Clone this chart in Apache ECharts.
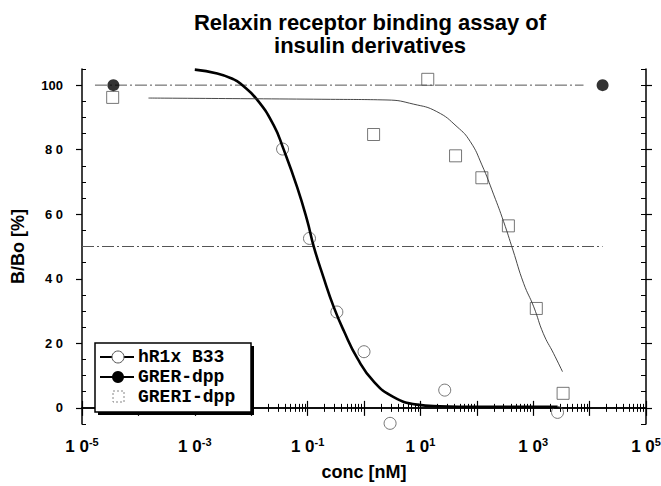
<!DOCTYPE html>
<html>
<head>
<meta charset="utf-8">
<script src="https://cdn.jsdelivr.net/npm/echarts@6/dist/echarts.min.js"></script>
<style>
  html, body { margin: 0; padding: 0; background: #fff; }
  #chart-container { width: 661px; height: 486px; }
</style>
</head>
<body>
<div id="chart-container"></div>
<script>
// measured points, conc in nM, binding in %
var b33Conc = [0.036, 0.108, 0.33, 1.0, 2.9, 27, 2700];
var b33Val = [80.2, 52.5, 29.7, 17.4, -4.8, 5.5, -1.4];

var grerConc = [3.6e-5, 1.7e4];
var grerVal = [100, 100];

var greriConc = [3.5e-5, 1.48, 13.5, 42, 123, 363, 1135, 3390];
var greriVal = [96.2, 84.7, 101.8, 78.1, 71.3, 56.4, 30.8, 4.5];

// fitted curves
var b33FitConc = [0.001, 0.0025, 0.0049, 0.0065, 0.0126, 0.025, 0.037, 0.065, 0.098, 0.129, 0.19, 0.29, 0.44, 0.76, 1.48, 3.3, 8.7, 22, 100, 2700];
var b33FitVal = [104.8, 103.6, 101.8, 100.4, 95.6, 87.6, 80.4, 68.5, 58.2, 49.9, 40.6, 31.3, 23.8, 15.4, 8.2, 3.4, 1.0, 0.5, 0.3, 0.3];

var greriFitConc = [0.000151, 0.254, 2.56, 7.6, 19.5, 44.7, 76.7, 123, 200, 299, 437, 676, 1023, 1514, 2291, 3311];
var greriFitVal = [96.0, 95.6, 95.4, 94.1, 91.8, 87.1, 82.5, 75.3, 66.0, 57.7, 48.9, 38.6, 31.3, 23.0, 16.9, 11.2];

// dash-dot reference lines
var ref100Conc = [1.7e-5, 7.8e3];
var ref100Val = [100, 100];
var ref50Conc = [1e-5, 1.7e4];
var ref50Val = [50, 50];

// ticks
var xDecades = [1e-5, 1e-4, 1e-3, 1e-2, 1e-1, 1, 10, 100, 1e3, 1e4, 1e5];
var xLabelTicks = [1e-5, 1e-3, 1e-1, 10, 1e3, 1e5];
var yMajor = [0, 20, 40, 60, 80, 100];
var yMinor = [-5, 5, 10, 15, 25, 30, 35, 45, 50, 55, 65, 70, 75, 85, 90, 95, 105];

var xMinor = [];
for (var d = 0; d < xDecades.length - 1; d++) {
    for (var k = 1; k <= 9; k++) xMinor.push(xDecades[d] * k);
}
xMinor.push(1e5);

function pairs(xs, ys) {
    return xs.map(function (x, i) { return [x, ys[i]]; });
}

var chart = echarts.init(document.getElementById('chart-container'), null, { renderer: 'svg' });

var bold = 'Liberation Sans';
var axisLine = { show: true, lineStyle: { color: '#000', width: 1.5 } };
var dashDot = [12, 3, 2, 3];

function logAxis(pos, extra) {
    return Object.assign({
        type: 'log', logBase: 10, min: 1e-5, max: 1e5, position: pos,
        axisLine: axisLine, splitLine: { show: false }, axisLabel: { show: false }
    }, extra);
}
function valAxis(pos, extra) {
    return Object.assign({
        type: 'value', min: -5, max: 105, position: pos,
        axisLine: axisLine, splitLine: { show: false }, axisLabel: { show: false }
    }, extra);
}

var legendFont = 'bold 18px "Liberation Mono"';

var option = {
    backgroundColor: '#fff',
    animation: false,
    grid: { left: 82, right: 15, top: 69, bottom: 62, outerBoundsMode: 'none', containLabel: false },
    xAxis: [
        logAxis('bottom', {
            axisTick: { customValues: xDecades, length: 8, lineStyle: { color: '#000', width: 1.2 } },
            axisLabel: {
                show: true, customValues: xLabelTicks, margin: 12,
                formatter: function (v) {
                    var e = Math.round(Math.log10(v));
                    return '{a|1 0}{b|' + e + '}';
                },
                rich: {
                    a: { fontFamily: bold, fontWeight: 'bold', fontSize: 17, color: '#000', lineHeight: 20 },
                    b: { fontFamily: bold, fontWeight: 'bold', fontSize: 11, color: '#000', lineHeight: 12, verticalAlign: 'top' }
                }
            },
            name: 'conc [nM]', nameLocation: 'middle', nameGap: 39,
            nameTextStyle: { fontFamily: bold, fontWeight: 'bold', fontSize: 18, color: '#000' }
        }),
        logAxis('bottom', {
            axisLine: { show: false },
            axisTick: { customValues: xMinor, inside: true, length: 4, lineStyle: { color: '#000', width: 1 } }
        }),
        logAxis('top', {
            axisTick: { customValues: xDecades, length: 7, lineStyle: { color: '#000', width: 1.2 } }
        }),
        logAxis('top', {
            axisLine: { show: false },
            axisTick: { customValues: xMinor, inside: true, length: 4, lineStyle: { color: '#000', width: 1 } }
        })
    ],
    yAxis: [
        valAxis('left', {
            axisTick: { customValues: yMajor, length: 6, lineStyle: { color: '#000', width: 1.2 } },
            axisLabel: {
                show: true, customValues: yMajor, margin: 19,
                fontFamily: bold, fontWeight: 'bold', fontSize: 13, color: '#000',
                formatter: function (v) { return v < 100 ? String(v).split('').join(' ') : String(v); }
            },
            name: 'B/Bo [%]', nameLocation: 'middle', nameGap: 55, nameRotate: 90,
            nameTextStyle: { fontFamily: bold, fontWeight: 'bold', fontSize: 18, color: '#000' }
        }),
        valAxis('left', {
            axisLine: { show: false },
            axisTick: { customValues: yMinor, inside: true, length: 4, lineStyle: { color: '#000', width: 1 } }
        }),
        valAxis('right', {
            axisTick: { customValues: yMajor, length: 6, lineStyle: { color: '#000', width: 1.2 } }
        }),
        valAxis('right', {
            axisLine: { show: false },
            axisTick: { customValues: yMajor.concat(yMinor), inside: true, length: 5, lineStyle: { color: '#000', width: 1 } }
        })
    ],
    series: [
        {
            name: 'ref100', type: 'line', data: pairs(ref100Conc, ref100Val), symbol: 'none',
            lineStyle: { color: '#555', width: 1, type: dashDot }
        },
        {
            name: 'ref50', type: 'line', data: pairs(ref50Conc, ref50Val), symbol: 'none',
            lineStyle: { color: '#555', width: 1, type: dashDot }
        },
        {
            name: 'hR1x B33 fit', type: 'line', data: pairs(b33FitConc, b33FitVal), symbol: 'none', smooth: 0.5,
            lineStyle: { color: '#000', width: 2.6 }
        },
        {
            name: 'GRERI-dpp fit', type: 'line', data: pairs(greriFitConc, greriFitVal), symbol: 'none', smooth: 0.5,
            lineStyle: { color: '#333', width: 0.9 }
        },
        {
            name: 'hR1x B33', type: 'scatter', data: pairs(b33Conc, b33Val), symbol: 'circle', symbolSize: 12,
            itemStyle: { color: 'rgba(0,0,0,0)', borderColor: '#555', borderWidth: 1 }
        },
        {
            name: 'GRERI-dpp', type: 'scatter', data: pairs(greriConc, greriVal), symbol: 'rect', symbolSize: 12,
            itemStyle: { color: 'rgba(0,0,0,0)', borderColor: '#555', borderWidth: 1 }
        },
        {
            name: 'GRER-dpp', type: 'scatter', data: pairs(grerConc, grerVal), symbol: 'circle', symbolSize: 12,
            itemStyle: { color: '#000' }, z: 5
        }
    ],
    graphic: [
        {
            type: 'text', x: 370, y: 11, z: 10,
            style: { text: 'Relaxin receptor binding assay of', align: 'center', verticalAlign: 'top',
                     font: 'bold 22px "Liberation Sans"', fill: '#000' }
        },
        {
            type: 'text', x: 370, y: 34, z: 10,
            style: { text: 'insulin derivatives', align: 'center', verticalAlign: 'top',
                     font: 'bold 22px "Liberation Sans"', fill: '#000' }
        },
        // legend box
        { type: 'rect', z: 10, shape: { x: 98, y: 346, width: 156, height: 69 }, style: { fill: '#000' } },
        { type: 'rect', z: 10, shape: { x: 95, y: 343, width: 156, height: 69 }, style: { fill: '#fff', stroke: '#000', lineWidth: 1.5 } },
        { type: 'line', z: 11, shape: { x1: 100, y1: 357, x2: 134, y2: 357 }, style: { stroke: '#000', lineWidth: 2 } },
        { type: 'circle', z: 12, shape: { cx: 118, cy: 357, r: 6 }, style: { fill: '#fff', stroke: '#555', lineWidth: 1 } },
        { type: 'line', z: 11, shape: { x1: 100, y1: 377, x2: 134, y2: 377 }, style: { stroke: '#000', lineWidth: 2 } },
        { type: 'circle', z: 12, shape: { cx: 118, cy: 377, r: 6 }, style: { fill: '#000' } },
        { type: 'rect', z: 12, shape: { x: 113, y: 391, width: 11, height: 11 }, style: { fill: 'none', stroke: '#888', lineWidth: 1, lineDash: [2, 2] } },
        { type: 'text', z: 12, x: 138, y: 357, style: { text: 'hR1x B33', font: legendFont, verticalAlign: 'middle', fill: '#000' } },
        { type: 'text', z: 12, x: 138, y: 377, style: { text: 'GRER-dpp', font: legendFont, verticalAlign: 'middle', fill: '#000' } },
        { type: 'text', z: 12, x: 138, y: 397, style: { text: 'GRERI-dpp', font: legendFont, verticalAlign: 'middle', fill: '#000' } }
    ]
};

chart.setOption(option);
window.addEventListener('resize', chart.resize);
</script>
</body>
</html>
